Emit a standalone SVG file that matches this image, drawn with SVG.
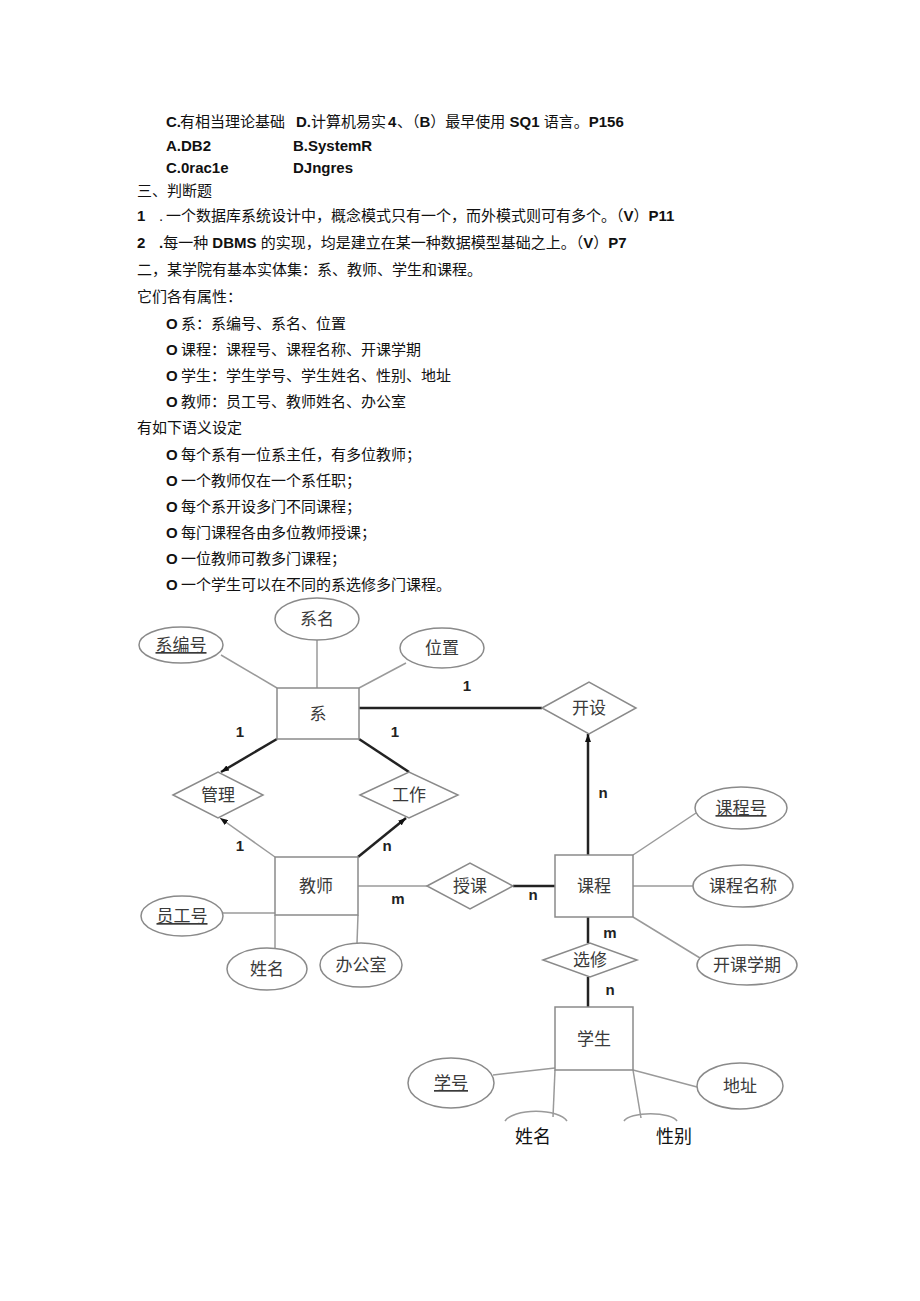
<svg xmlns="http://www.w3.org/2000/svg" width="920" height="1301" viewBox="0 0 920 1301">
<style>
.t{font-family:"Liberation Sans","Noto Sans CJK SC",sans-serif;font-size:15px;fill:#111}
.b{font-weight:bold}
.lab{font-family:"Noto Sans CJK SC",sans-serif;font-size:17px;fill:#3a3a3a;text-anchor:middle}
.u{text-decoration:underline}
.card{font-family:"Liberation Sans",sans-serif;font-size:15px;font-weight:bold;fill:#222;text-anchor:middle}
.shape{fill:#fff;stroke:#8a8a8a;stroke-width:1.5}
.thin{stroke:#9a9a9a;stroke-width:1.5;fill:none}
.thick{stroke:#222;stroke-width:2.5;fill:none}
.foot{font-family:"Noto Sans CJK SC",serif;font-size:18px;fill:#111}
</style>
<defs>
<marker id="arr" markerWidth="8" markerHeight="6" refX="8" refY="3" orient="auto" markerUnits="userSpaceOnUse">
<path d="M0,0 L8,3 L0,6 z" fill="#111"/>
</marker>
</defs>
<rect width="920" height="1301" fill="#fff"/>

<g id="text">
<text class="t" y="127"><tspan x="166" class="b">C.</tspan><tspan x="180">有相当理论基础</tspan><tspan x="296" class="b">D.</tspan><tspan x="311">计算机易实</tspan><tspan x="388" class="b">4</tspan><tspan x="397">、（</tspan><tspan class="b">B</tspan><tspan>）最早使用 </tspan><tspan class="b">SQ1</tspan><tspan> 语言。</tspan><tspan class="b">P156</tspan></text>
<text class="t b" y="151"><tspan x="166">A.DB2</tspan><tspan x="293">B.SystemR</tspan></text>
<text class="t b" y="173"><tspan x="166">C.0rac1e</tspan><tspan x="293">DJngres</tspan></text>
<text class="t" x="137" y="196">三、判断题</text>
<text class="t" y="221"><tspan x="137" class="b">1</tspan><tspan x="159">.</tspan><tspan x="166">一个数据库系统设计中，概念模式只有一个，而外模式则可有多个。（</tspan><tspan class="b">V</tspan><tspan>）</tspan><tspan class="b">P11</tspan></text>
<text class="t" y="248"><tspan x="137" class="b">2</tspan><tspan x="159" class="b">.</tspan><tspan>每一种 </tspan><tspan class="b">DBMS</tspan><tspan> 的实现，均是建立在某一种数据模型基础之上。（</tspan><tspan class="b">V</tspan><tspan>）</tspan><tspan class="b">P7</tspan></text>
<text class="t" x="137" y="275">二，某学院有基本实体集：系、教师、学生和课程。</text>
<text class="t" x="137" y="302">它们各有属性：</text>
<text class="t" y="329"><tspan x="166" class="b">O</tspan><tspan x="181">系：系编号、系名、位置</tspan></text>
<text class="t" y="355"><tspan x="166" class="b">O</tspan><tspan x="181">课程：课程号、课程名称、开课学期</tspan></text>
<text class="t" y="381"><tspan x="166" class="b">O</tspan><tspan x="181">学生：学生学号、学生姓名、性别、地址</tspan></text>
<text class="t" y="407"><tspan x="166" class="b">O</tspan><tspan x="181">教师：员工号、教师姓名、办公室</tspan></text>
<text class="t" x="137" y="433">有如下语义设定</text>
<text class="t" y="460"><tspan x="166" class="b">O</tspan><tspan x="181">每个系有一位系主任，有多位教师；</tspan></text>
<text class="t" y="486"><tspan x="166" class="b">O</tspan><tspan x="181">一个教师仅在一个系任职；</tspan></text>
<text class="t" y="512"><tspan x="166" class="b">O</tspan><tspan x="181">每个系开设多门不同课程；</tspan></text>
<text class="t" y="538"><tspan x="166" class="b">O</tspan><tspan x="181">每门课程各由多位教师授课；</tspan></text>
<text class="t" y="564"><tspan x="166" class="b">O</tspan><tspan x="181">一位教师可教多门课程；</tspan></text>
<text class="t" y="590"><tspan x="166" class="b">O</tspan><tspan x="181">一个学生可以在不同的系选修多门课程。</tspan></text>
</g>

<g id="connectors">
<line class="thin" x1="221" y1="655" x2="277" y2="688"/>
<line class="thin" x1="317" y1="640" x2="317" y2="688"/>
<line class="thin" x1="406" y1="663" x2="359" y2="688"/>
<line class="thick" x1="359" y1="708" x2="542" y2="708"/>
<line class="thick" x1="277" y1="739" x2="221" y2="772" marker-end="url(#arr)"/>
<line class="thick" x1="359" y1="739" x2="409" y2="772"/>
<line class="thin" x1="275" y1="857" x2="220" y2="818" marker-end="url(#arr)"/>
<line class="thick" x1="358" y1="857" x2="406" y2="818" marker-end="url(#arr)"/>
<line class="thick" x1="588" y1="855" x2="588" y2="734" marker-end="url(#arr)"/>
<line class="thin" x1="358" y1="886" x2="427" y2="886"/>
<line class="thick" x1="513" y1="886" x2="555" y2="886"/>
<line class="thin" x1="223" y1="913" x2="275" y2="913"/>
<line class="thin" x1="275" y1="915" x2="275" y2="948"/>
<line class="thin" x1="358" y1="915" x2="357" y2="943"/>
<line class="thin" x1="633" y1="855" x2="696" y2="813"/>
<line class="thin" x1="633" y1="886" x2="693" y2="886"/>
<line class="thin" x1="633" y1="917" x2="700" y2="958"/>
<line class="thick" x1="588" y1="917" x2="588" y2="943"/>
<line class="thick" x1="588" y1="977" x2="588" y2="1007"/>
<line class="thin" x1="493" y1="1075" x2="555" y2="1068"/>
<line class="thin" x1="633" y1="1070" x2="697" y2="1087"/>
<line class="thin" x1="555" y1="1070" x2="553" y2="1117"/>
<line class="thin" x1="633" y1="1070" x2="641" y2="1118"/>
<path class="thin" d="M505,1121 A32,13 0 0 1 567,1121"/>
<path class="thin" d="M624,1121 A27,9 0 0 1 677,1121"/>
<text class="card" x="467" y="691">1</text>
<text class="card" x="240" y="737">1</text>
<text class="card" x="395" y="737">1</text>
<text class="card" x="240" y="851">1</text>
<text class="card" x="387" y="851">n</text>
<text class="card" x="603" y="798">n</text>
<text class="card" x="398" y="904">m</text>
<text class="card" x="533" y="900">n</text>
<text class="card" x="610" y="938">m</text>
<text class="card" x="610" y="995">n</text>
</g>

<g id="n-xi"><rect class="shape" x="277" y="688" width="82" height="51"/><text class="lab" x="318" y="720">系</text></g>
<g id="n-ximing"><ellipse class="shape" cx="317" cy="619" rx="42" ry="21"/><text class="lab" x="317" y="625">系名</text></g>
<g id="n-xibianhao"><ellipse class="shape" cx="181" cy="645" rx="42" ry="18"/><text class="lab u" x="181" y="651">系编号</text></g>
<g id="n-weizhi"><ellipse class="shape" cx="442" cy="648" rx="42" ry="20"/><text class="lab" x="442" y="654">位置</text></g>
<g id="n-kaishe"><polygon class="shape" points="542,708 589,682 636,708 589,734"/><text class="lab" x="589" y="714">开设</text></g>
<g id="n-guanli"><polygon class="shape" points="173,795 218,772 263,795 218,818"/><text class="lab" x="218" y="801">管理</text></g>
<g id="n-gongzuo"><polygon class="shape" points="360,795 409,772 458,795 409,818"/><text class="lab" x="409" y="801">工作</text></g>
<g id="n-jiaoshi"><rect class="shape" x="275" y="857" width="83" height="58"/><text class="lab" x="316" y="892">教师</text></g>
<g id="n-yuangonghao"><ellipse class="shape" cx="182" cy="916" rx="41" ry="20"/><text class="lab u" x="182" y="922">员工号</text></g>
<g id="n-xingming1"><ellipse class="shape" cx="267" cy="969" rx="40" ry="21"/><text class="lab" x="267" y="975">姓名</text></g>
<g id="n-bangongshi"><ellipse class="shape" cx="361" cy="965" rx="41" ry="22"/><text class="lab" x="361" y="971">办公室</text></g>
<g id="n-shouke"><polygon class="shape" points="427,886 470,863 513,886 470,909"/><text class="lab" x="470" y="892">授课</text></g>
<g id="n-kecheng"><rect class="shape" x="555" y="855" width="78" height="62"/><text class="lab" x="594" y="892">课程</text></g>
<g id="n-kechenghao"><ellipse class="shape" cx="741" cy="808" rx="46" ry="21"/><text class="lab u" x="741" y="814">课程号</text></g>
<g id="n-kechengmingcheng"><ellipse class="shape" cx="743" cy="886" rx="50" ry="21"/><text class="lab" x="743" y="892">课程名称</text></g>
<g id="n-kaikexueqi"><ellipse class="shape" cx="747" cy="965" rx="50" ry="20"/><text class="lab" x="747" y="971">开课学期</text></g>
<g id="n-xuanxiu"><polygon class="shape" points="543,960 590,943 637,960 590,977"/><text class="lab" x="590" y="966">选修</text></g>
<g id="n-xuesheng"><rect class="shape" x="555" y="1007" width="78" height="63"/><text class="lab" x="594" y="1045">学生</text></g>
<g id="n-xuehao"><ellipse class="shape" cx="451" cy="1083" rx="43" ry="25"/><text class="lab u" x="451" y="1089">学号</text></g>
<g id="n-dizhi"><ellipse class="shape" cx="740" cy="1086" rx="43" ry="23"/><text class="lab" x="740" y="1092">地址</text></g>
<g id="n-foot"><text class="foot" x="515" y="1143">姓名</text><text class="foot" x="656" y="1143">性别</text></g>
</svg>
